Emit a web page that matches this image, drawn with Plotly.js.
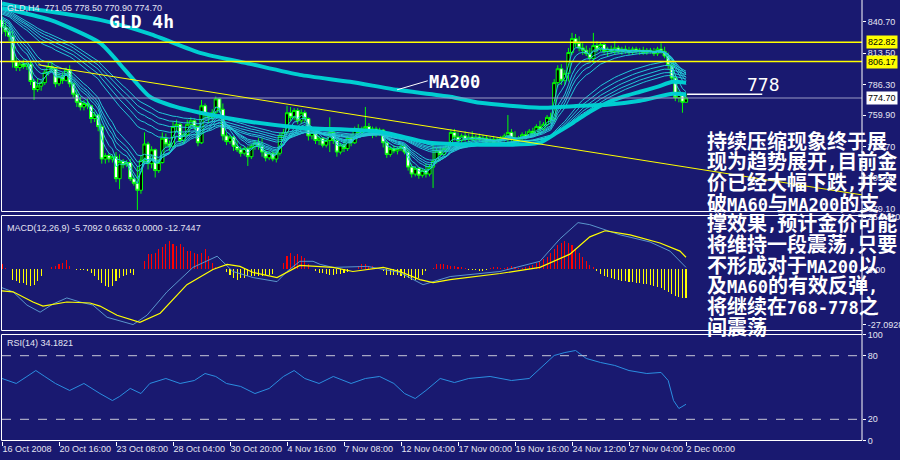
<!DOCTYPE html>
<html><head><meta charset="utf-8">
<script src="https://cdn.plot.ly/plotly-3.0.1.min.js"></script>
<style>html,body{margin:0;padding:0;background:#191970;}#chart{width:900px;height:460px;}</style>
</head><body><div id="chart"></div>
<script>
// ---------- DATA ----------
const tickIdx = [0,16,32,48,64,80,96,112,128,144,160,176,192];
const tickLabels = ['16 Oct 2008','20 Oct 16:00','23 Oct 08:00','28 Oct 04:00','30 Oct 20:00','4 Nov 16:00','7 Nov 08:00','12 Nov 04:00','17 Nov 00:00','19 Nov 16:00','24 Nov 12:00','27 Nov 04:00','2 Dec 00:00'];
const priceTicks = [840.70,813.50,786.30,759.90,732.70,705.90,679.10];
const priceTickText = ['840.70','813.50','786.30','759.90','732.70','705.90','679.10'];

const open = [842,836,832,828,806,801,804,802,804,789,
782,785,788,797,802,800,787,793,790,799,
787,778,771,767,770,768,757,760,750,722,
725,722,724,705,720,717,719,705,701,695,
721,735,718,730,712,719,740,735,733,750,
752,738,743,752,755,750,736,768,760,758,
762,774,765,742,737,741,733,730,727,731,
724,733,736,733,728,723,727,722,727,742,
745,762,758,764,755,762,757,742,745,738,
740,734,738,745,738,728,734,731,740,736,
748,745,748,750,746,748,744,747,736,726,
731,729,731,733,728,715,709,714,708,712,
709,715,720,729,726,731,734,745,741,738,
742,739,741,739,741,739,740,737,739,736,
739,740,742,745,740,738,740,743,741,746,
744,750,748,752,758,756,788,800,790,796,
814,826,822,818,816,813,809,820,817,821,
815,817,815,818,815,817,816,814,817,815,
816,814,816,815,813,817,815,811,803,792,
775,778,771.05];
const high = [846,840,836,833,810,806,808,806,806,791,
792,790,800,805,806,801,796,797,801,803,
788,782,776,773,774,769,763,761,752,727,
727,726,728,726,722,721,722,708,716,725,
745,737,733,731,722,745,744,738,754,756,
753,745,756,758,757,751,773,770,762,765,
776,775,770,745,743,742,738,733,733,733,
735,738,740,740,730,729,729,730,745,748,
768,767,766,766,765,764,758,747,746,742,
741,740,758,748,739,736,738,742,744,750,
752,750,767,753,750,750,749,748,738,733,
734,733,735,735,731,718,716,715,714,718,
717,736,732,733,733,736,748,748,745,744,
746,744,746,743,744,743,742,741,742,741,
742,744,760,748,746,742,745,746,748,749,
752,755,754,760,762,791,803,804,799,818,
831,830,828,822,820,818,831,824,823,822,
819,820,824,820,819,820,819,819,819,818,
819,818,818,818,819,822,819,814,805,795,
781,780,778.5];
const low = [830,828,824,801,798,798,800,799,786,773,
780,781,786,794,797,784,785,787,789,784,
775,767,764,764,765,753,754,746,718,718,
719,719,702,696,714,715,703,699,678,692,
718,713,714,706,710,718,732,729,731,745,
736,735,741,748,747,733,735,756,753,755,
760,762,738,734,735,729,728,724,725,716,
722,730,730,724,720,721,720,719,725,738,
744,755,756,752,752,753,738,739,735,734,
732,732,728,735,724,726,728,729,733,735,
742,742,745,743,740,741,742,732,723,724,
727,726,729,726,712,706,707,705,706,706,
707,697,718,724,725,729,732,738,735,736,
737,736,737,735,737,736,735,734,734,734,
736,737,736,737,736,735,737,739,740,741,
742,745,746,750,753,754,784,786,786,789,
812,819,815,812,811,806,805,814,815,813,
811,813,812,813,812,813,812,812,813,812,
812,812,813,811,811,813,809,800,789,772,
771,762,770.9];
const close = [836,832,828,806,801,804,802,804,789,782,
785,788,797,802,800,787,793,790,799,787,
778,771,767,770,768,757,760,750,722,725,
722,724,705,720,717,719,705,701,695,721,
735,718,730,712,719,740,735,733,750,752,
738,743,752,755,750,736,768,760,758,762,
774,765,742,737,741,733,730,727,731,724,
733,736,733,728,723,727,722,727,742,745,
762,758,764,755,762,757,742,745,738,740,
734,738,745,738,728,734,731,740,736,748,
745,748,750,746,748,744,747,736,726,731,
729,731,733,728,715,709,714,708,712,709,
715,720,729,726,731,734,745,741,738,742,
739,741,739,741,739,740,737,739,736,739,
740,742,745,740,738,740,743,741,746,744,
750,748,752,758,756,788,800,790,796,814,
826,822,818,816,813,809,820,817,821,815,
817,815,818,815,817,816,814,817,815,816,
814,816,815,813,817,815,811,803,792,775,
778,771,774.7];

// thick moving averages (bar index, price)
const ma200X = [0,5,27.5,41.5,55.6,69.6,83.6,97.7,110.9,125.8,134.2,151,162.2,169.8,179.1,188.3,192];
const ma200Y = [856.4,853.4,842.2,830.1,813.7,804.2,794.7,788.7,781.8,775.8,770.6,766.3,768.0,768.9,772.3,778.4,777.9];
const ma60X = [0,13.5,27.5,34.5,41.5,48.6,55.6,69.6,83.6,106,120,134,143.4,151,155.8,160.3,165,169.8,174.3,179.1,183.9,188.3,192];
const ma60Y = [852.5,842.2,822.3,799.1,775.8,767.2,762.0,754.2,749.1,745.6,736.1,734.4,734.4,736.1,744.8,753.4,762.9,770.6,775.8,780.1,784.4,788.7,787.9];
// ribbon EMA periods and their starting values at the left edge
const ribbonPeriods = [3,5,8,10,12,15,30,35,40,45,50];
const ribbonSeeds = [838,840,842,844,845,846,848,849,850,851,852];

const levels = [822.82, 806.17];
const lastPrice = 774.70;
const trendX = [10.2, 241.4];
const trendY = [803.4, 691.0];
const ma200PtrX = [110.9, 119.5]; const ma200PtrY = [781.8, 789.6];
const lvl778X = [192.3, 213.4]; const lvl778Y = [777.9, 777.9];

// MACD
const macdHist = [2.5,0.5,0,-5,-5.8,-6.7,-6.7,-7.5,-8.3,-7.5,
-5.8,-3.3,0,0,1,1.7,2.5,3.3,4.7,1.7,
0,-0.5,-0.5,-0.5,-1,-1.7,-3.3,-5,-6.7,-8.3,
-8.8,-8.3,-5.8,-4.2,-3,-2.5,-1.7,-2.5,0,0,
4.2,7.5,7.5,8.3,10,10.8,12.5,14.2,12.5,11.7,
12.5,10.8,9.2,9.2,8.3,7.5,8.3,10,6.7,3,
1,0,0,-1.5,-2.5,-4.2,-5,-4.2,-4.2,-3.3,
-3.3,-3.3,-3.3,-3.3,-2.5,-2.5,-2,0,0,3.3,
6.7,8.3,6.7,7.5,6.7,5.8,2.5,0,-1,-1.7,
-1.7,-2,-2.5,-2.5,-2,-2,-1.7,-1.2,0,0,
1.7,2.5,2.5,1.7,1.7,0.8,0,-0.8,-2.5,-2.5,
-2.8,-2.5,-3.3,-4.2,-4.2,-5,-5,-4.2,-2.5,-1,
0,0.8,2.5,2.5,2.5,
2,1.5,1.5,1,1,0.5,-0.5,-0.5,-0.5,-1,
-1,-0.5,0.5,1,1,0.5,0.5,1,1.5,1,
0.5,0.5,1,1.5,2,3,4,5,6,8,
10,12,13,14,13,12,10,8,6,4,
2,1,-1,-2,-3,-3.5,-4,-4.5,-5,-5.5,
-5.5,-6,-6,-6.5,-6.5,-7,-7,-7.5,-8,-8.5,
-9,-10,-11,-12,-13,-13.5,-14,-14];
const macdX = [0,3.1,7,10.7,14.3,18.2,21.9,25.5,29.5,36.8,40.7,46.3,53.6,60.4,64.8,70.5,77.2,80,83.6,87.3,89.3,92.9,102.5,111.7,118.2,121,125.8,139.8,151,156.6,161.7,165,173.5,181.9,187.5,192];
const macdY = [-9,-11,-17.5,-21,-17,-14,-16,-17.5,-23.5,-27.09,-22.5,-11,1,6.5,-1,-4,-6,-1,4,4,2.5,1,1.5,-1.5,-7.5,-6,-3.5,-1,4,15,23,22,17,13.5,9,1];
const sigX = [0,3.1,8.7,11.5,18.2,24.7,27.5,32.3,38.7,44.4,51.9,59.2,63.2,66.8,70.5,77.2,83.6,92.9,98.5,107,111.7,117.3,121,125.8,139.8,151,159.4,165,169.3,176.3,184.7,190.3,192];
const sigY = [-10.5,-11,-16,-18,-16,-16.5,-18,-22.5,-26,-21.5,-7.5,0,2.5,1.5,-1.5,-4,2,1,-1,1,-1,-5,-6.5,-5,-2,1,7.5,16,19,17,13,9,6];
const macdTicks = [25.741, 0, -27.0928];
const macdTickText = ['25.7410','0.00','-27.0928'];

// RSI
const rsiX = [0,4,7,9.5,12,15,19,23,27.5,31,33,36,39,41.5,46,50,54,57,60,63,67,71,75,79,82,85,89,93,98,102,106,110,113,116,119,123,127,131,137,143,148,152,155,158,161,164,168,172,176,181,185,187,188.5,190,192];
const rsiY = [58.5,53.8,60.4,66.0,60.4,53.8,47.2,53.8,44.3,37.7,41.5,49.1,44.3,53.8,58.5,53.8,56.6,63.2,60.4,53.8,51.0,44.3,49.1,60.4,66.0,58.5,53.8,60.4,53.8,58.5,60.4,53.8,44.3,39.6,47.2,58.5,54.7,58.5,60.4,56.6,58.5,70.8,80.2,83.0,84.9,77.4,73.6,70.8,66.0,63.2,64.2,56.6,37.7,30.2,34.18];

const noteLines = ['持续压缩现象终于展','现为趋势展开,目前金','价已经大幅下跌,并突','破MA60与MA200的支','撑效果,预计金价可能','将维持一段震荡,只要','不形成对于MA200以','及MA60的有效反弹,','将继续在768-778之','间震荡'];

// ---------- BUILD ----------
const W = 900, H = 460;
const px = x => x / W;
const py = y => 1 - y / H;
const idx = close.map((_, i) => i);
const BG = '#191970';
const CY_THICK = '#00CED1';
const CY_THIN = '#22c8d8';
const TXT = '#e4e4f2';

function ema(src, n, seed) {
  const k = 2 / (n + 1); const out = []; let v = seed;
  for (let i = 0; i < src.length; i++) { v = v + k * (src[i] - v); out.push(v); }
  return out;
}

const traces = [];
traces.push({type:'candlestick', x: idx, open, high, low, close, xaxis:'x', yaxis:'y',
  increasing:{line:{color:'#00ff00', width:1}, fillcolor:'#000000'},
  decreasing:{line:{color:'#00ff00', width:1}, fillcolor:'#ffffff'},
  whiskerwidth:0, hoverinfo:'skip'});
ribbonPeriods.forEach((n, k) => {
  traces.push({type:'scatter', mode:'lines', x: idx, y: ema(close, n, ribbonSeeds[k]), xaxis:'x', yaxis:'y',
    line:{color:CY_THIN, width:1}, hoverinfo:'skip'});
});
traces.push({type:'scatter', mode:'lines', x: ma60X, y: ma60Y, line:{color:CY_THICK, width:4, shape:'spline', smoothing:0.6}, hoverinfo:'skip'});
traces.push({type:'scatter', mode:'lines', x: ma200X, y: ma200Y, line:{color:CY_THICK, width:4, shape:'spline', smoothing:0.6}, hoverinfo:'skip'});
levels.forEach(l => traces.push({type:'scatter', mode:'lines', x:[-1, 242], y:[l, l], line:{color:'#ffff00', width:1.5}, hoverinfo:'skip'}));
traces.push({type:'scatter', mode:'lines', x:[-1, 242], y:[lastPrice, lastPrice], line:{color:'#9a9ac4', width:1.2}, hoverinfo:'skip'});
traces.push({type:'scatter', mode:'lines', x: trendX, y: trendY, line:{color:'#ffff00', width:1}, hoverinfo:'skip'});
traces.push({type:'scatter', mode:'lines', x: ma200PtrX, y: ma200PtrY, line:{color:'#ffffff', width:1}, hoverinfo:'skip'});
traces.push({type:'scatter', mode:'lines', x: lvl778X, y: lvl778Y, line:{color:'#ffffff', width:1.5}, hoverinfo:'skip'});

traces.push({type:'bar', x: idx, y: macdHist, xaxis:'x', yaxis:'y2', width:0.3,
  marker:{color: macdHist.map(v => v >= 0 ? '#ff0000' : '#ffff00'), line:{width:0}}, hoverinfo:'skip'});
traces.push({type:'scatter', mode:'lines', x: macdX, y: macdY, xaxis:'x', yaxis:'y2', line:{color:'#5a96cc', width:1}, hoverinfo:'skip'});
traces.push({type:'scatter', mode:'lines', x: sigX, y: sigY, xaxis:'x', yaxis:'y2', line:{color:'#ffff00', width:1.2}, hoverinfo:'skip'});
traces.push({type:'scatter', mode:'lines', x: rsiX, y: rsiY, xaxis:'x', yaxis:'y3', line:{color:'#2b8ee0', width:1}, hoverinfo:'skip'});

const axisFont = {family:'Liberation Sans, Arial, sans-serif', size:9, color:TXT};
const yCommon = {side:'right', anchor:'x', showgrid:false, zeroline:false, showline:false, ticks:'outside', ticklen:3, tickcolor:'#ffffff', tickmode:'array', tickfont:axisFont, fixedrange:true};

const shapes = [];
const wline = (x0,y0,x1,y1) => ({type:'line', xref:'paper', yref:'paper', x0:px(x0), y0:py(y0), x1:px(x1), y1:py(y1), line:{color:'#ffffff', width:1}});
shapes.push(wline(1.5, 0, 1.5, 211.5));
shapes.push(wline(1.5, 211.5, 862, 211.5));
shapes.push(wline(1.5, 215.5, 862, 215.5));
shapes.push(wline(1.5, 215.5, 1.5, 330.5));
shapes.push(wline(1.5, 330.5, 862, 330.5));
shapes.push(wline(1.5, 334.5, 862, 334.5));
shapes.push(wline(1.5, 334.5, 1.5, 440.5));
shapes.push(wline(1.5, 440.5, 862, 440.5));
shapes.push(wline(862, 0, 862, 440.5));
[80, 20].forEach(v => shapes.push({type:'line', xref:'paper', yref:'y3', x0:px(2), x1:px(862), y0:v, y1:v, line:{color:'#c8c8d8', width:1, dash:'dash'}}));

const ann = [];
const t = (x, y, text, opts) => Object.assign({xref:'paper', yref:'paper', x:px(x), y:py(y), text, showarrow:false, xanchor:'left', yanchor:'middle', font:{family:'Liberation Sans, Arial, sans-serif', size:9, color:TXT}}, opts || {});
ann.push(t(5, 8, 'GLD,H4  771.05 778.50 770.90 774.70'));
ann.push(t(5, 228, 'MACD(12,26,9) -5.7092 0.6632 0.0000 -12.7447'));
ann.push(t(5, 343, 'RSI(14) 34.1821'));
ann.push(t(141, 22, '<b>GLD 4h</b>', {xanchor:'center', font:{family:'DejaVu Sans Mono, monospace', size:18, color:'#ffffff'}}));
ann.push(t(454, 82, '<b>MA200</b>', {xanchor:'center', font:{family:'DejaVu Sans Mono, monospace', size:17, color:'#ffffff'}}));
ann.push(t(763, 84, '778', {xanchor:'center', font:{family:'DejaVu Sans Mono, monospace', size:18, color:'#ffffff'}}));
const box = (v, bg, txt) => ({xref:'paper', yref:'y', x:px(866), y:v, text:txt, showarrow:false, xanchor:'left', yanchor:'middle', bgcolor:bg, borderpad:1, font:{family:'Liberation Sans, Arial, sans-serif', size:9, color:'#000000'}});
ann.push(box(levels[0], '#ffff00', levels[0].toFixed(2)));
ann.push(box(levels[1], '#ffff00', levels[1].toFixed(2)));
ann.push(box(lastPrice, '#ffffff', lastPrice.toFixed(2)));
const halfWidth = s => s.replace(/[A-Za-z0-9\-,]+/g, m => '<span style="font-family:DejaVu Sans Mono;font-size:17px">' + m + '</span>');
noteLines.forEach((s, k) => ann.push(t(705, 140 + 20.7 * k, '<b>' + halfWidth(s) + '</b>', {font:{family:'Noto Sans CJK SC, sans-serif', size:20, color:'#ffffff'}})));

const layout = {
  width: W, height: H, margin:{l:0, r:0, t:0, b:0},
  paper_bgcolor: BG, plot_bgcolor: BG, showlegend:false,
  font: axisFont,
  xaxis: {domain:[0, px(862)], range:[-0.56, 241.4], anchor:'y3', showgrid:false, zeroline:false, showline:false,
    tickmode:'array', tickvals: tickIdx, ticktext: tickLabels, ticks:'outside', ticklen:4, tickcolor:'#ffffff',
    tickangle:0, tickfont: axisFont, ticklabelposition:'outside right', rangeslider:{visible:false}, fixedrange:true},
  yaxis: Object.assign({}, yCommon, {domain:[py(211.5), 1], range:[676.65, 859.4], tickvals: priceTicks, ticktext: priceTickText}),
  yaxis2: Object.assign({}, yCommon, {domain:[py(330.5), py(215.5)], range:[-30, 26.5], tickvals: macdTicks, ticktext: macdTickText}),
  yaxis3: Object.assign({}, yCommon, {domain:[py(440.5), py(334.5)], range:[0, 100], tickvals:[100,80,20,0], ticktext:['100','80','20','0']}),
  bargap: 0, boxgap: 0.12, boxgroupgap: 0, shapes, annotations: ann
};
Plotly.newPlot('chart', traces, layout, {staticPlot:true, displayModeBar:false});
</script>
</body></html>
